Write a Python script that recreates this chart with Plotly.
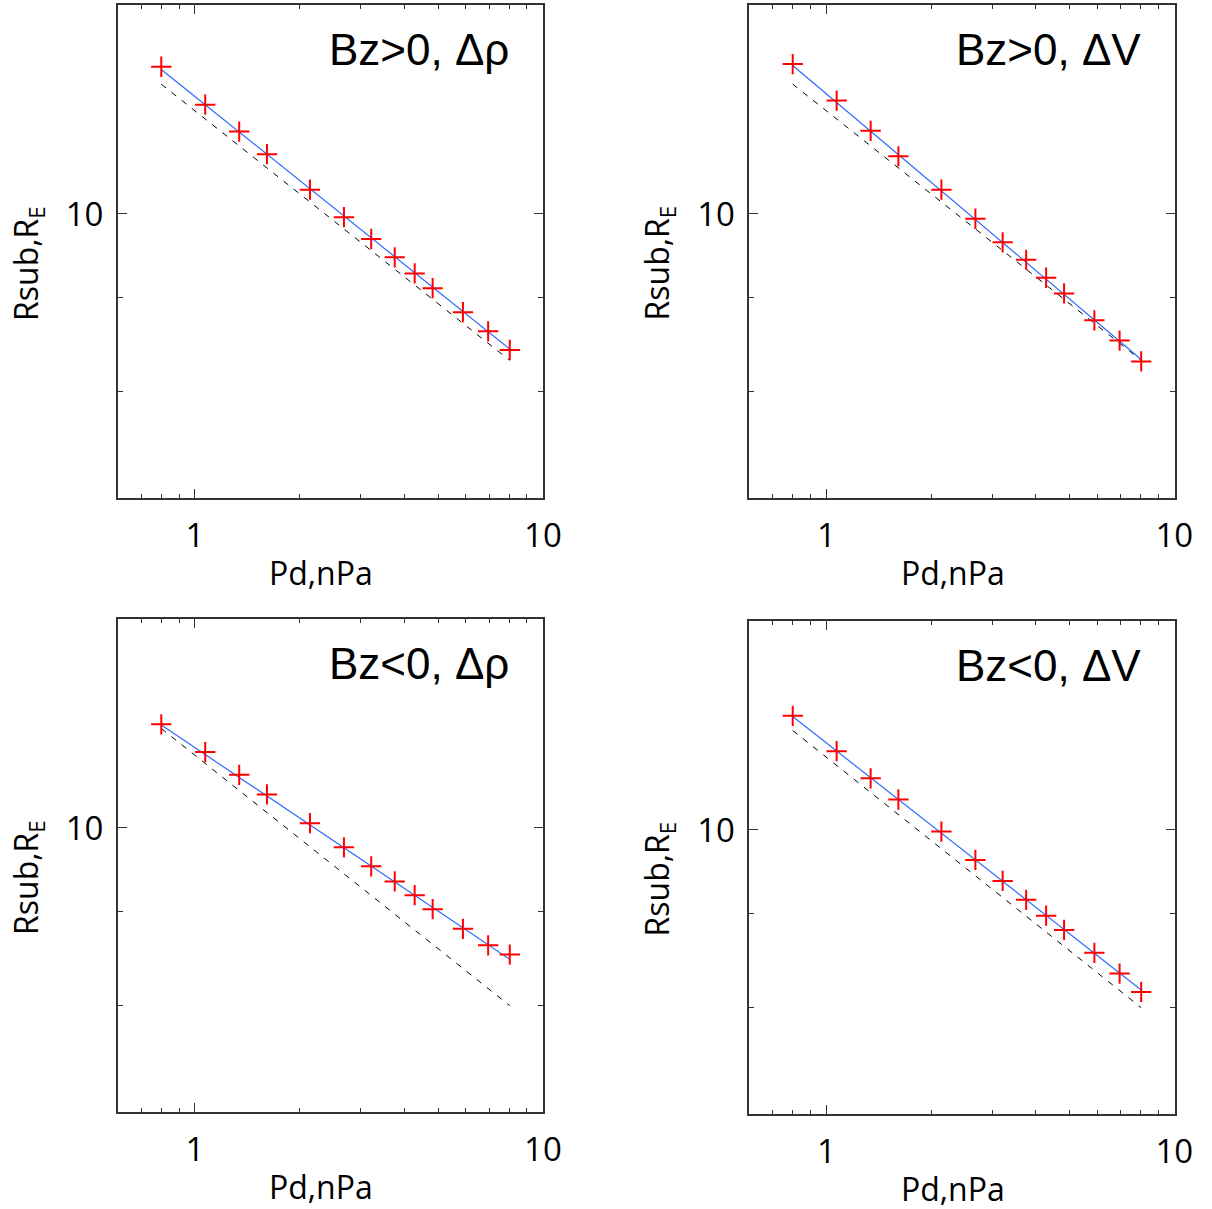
import plotly.graph_objects as go
import numpy as np

# ---------------- data ----------------
pd_vals = [0.80, 1.07, 1.34, 1.61, 2.14, 2.68, 3.21, 3.75, 4.28, 4.82, 5.89, 6.96, 8.03]

rsub_bzpos_rho = [12.03, 11.47, 11.09, 10.78, 10.31, 9.96, 9.69, 9.47, 9.28, 9.11, 8.84, 8.63, 8.43]
rsub_bzpos_v   = [12.07, 11.53, 11.10, 10.75, 10.31, 9.94, 9.65, 9.44, 9.23, 9.05, 8.75, 8.53, 8.31]
rsub_bzneg_rho = [11.39, 11.00, 10.69, 10.43, 10.06, 9.76, 9.53, 9.35, 9.19, 9.03, 8.81, 8.63, 8.53]
rsub_bzneg_v   = [11.54, 11.04, 10.67, 10.39, 9.98, 9.63, 9.38, 9.16, 8.98, 8.82, 8.57, 8.35, 8.16]

# power-law fit lines (values at first and last Pd)
fit_pd = [0.80, 8.03]
fit_bzpos_rho = [11.99, 8.44]
fit_bzpos_v   = [12.05, 8.33]
fit_bzneg_rho = [11.38, 8.48]
fit_bzneg_v   = [11.53, 8.18]
# reference (dashed) model lines
ref_bzpos = [11.77, 8.32]
ref_bzneg = [11.33, 8.00]

panel_titles = ["Bz>0, \u0394\u03c1", "Bz>0, \u0394V", "Bz<0, \u0394\u03c1", "Bz<0, \u0394V"]
x_title = "Pd,nPa"
y_title = "Rsub,R<sub>E</sub>"
x_major = [1, 10]
x_major_text = ["1", "10"]
x_minor = [0.7, 0.8, 0.9, 2, 3, 4, 5, 6, 7, 8, 9]
y_major = [10]
y_major_text = ["10"]
y_minor = [8, 9]
x_range = [0.6, 10]
y_range = [7, 13]

panels = [
    (rsub_bzpos_rho, fit_bzpos_rho, ref_bzpos),
    (rsub_bzpos_v, fit_bzpos_v, ref_bzpos),
    (rsub_bzneg_rho, fit_bzneg_rho, ref_bzneg),
    (rsub_bzneg_v, fit_bzneg_v, ref_bzneg),
]

# ---------------- layout geometry (pixels) ----------------
W, H = 1212, 1209
WX = 1195.0   # effective horizontal scale used for domain fractions
boxes = [  # left, right, top, bottom
    (118, 544, 5, 498),
    (750.5, 1176.5, 5, 498),
    (118, 544, 619, 1112),
    (750.5, 1176.5, 621, 1114),
]

fig = go.Figure()
tick_font = dict(family="Open Sans, Noto Sans, sans-serif", size=33, color="black")
title_font = dict(family="Open Sans, Noto Sans, sans-serif", size=32, color="black")
label_font = dict(family="Liberation Sans, Arial, sans-serif", size=44, color="black")
axis_color = "#333333"

annotations = []
for i, (rs, fit, ref) in enumerate(panels):
    n = "" if i == 0 else str(i + 1)
    xa, ya = "x" + n, "y" + n
    fig.add_trace(go.Scatter(x=fit_pd, y=ref, mode="lines", xaxis=xa, yaxis=ya,
                             line=dict(color="black", width=1, dash="6px,7px"),
                             showlegend=False, hoverinfo="skip"))
    fig.add_trace(go.Scatter(x=fit_pd, y=fit, mode="lines", xaxis=xa, yaxis=ya,
                             line=dict(color="#2a6bff", width=1.2),
                             showlegend=False, hoverinfo="skip"))
    fig.add_trace(go.Scatter(x=pd_vals, y=rs, mode="markers", xaxis=xa, yaxis=ya,
                             marker=dict(symbol="cross-thin", size=14.5,
                                         line=dict(color="#ff0000", width=2)),
                             showlegend=False))
    l, r, t, b = boxes[i]
    xdom = [l / WX, min(r / WX, 1.0)]
    ydom = [1 - b / H, 1 - t / H]
    common = dict(showgrid=False, zeroline=False, showline=True, linecolor=axis_color,
                  linewidth=1.5, mirror="ticks", ticks="inside", tickcolor=axis_color,
                  tickwidth=1.2, ticklen=9, tickfont=tick_font)
    fig.layout["xaxis" + n] = dict(common, type="log", domain=xdom, anchor=ya,
                                   range=[np.log10(x_range[0]), np.log10(x_range[1]) + 0.0005],
                                   tickmode="array", tickvals=x_major, ticktext=x_major_text,
                                   ticklabelstandoff=8,
                                   minor=dict(tickmode="array", tickvals=x_minor, ticks="inside",
                                              ticklen=4, tickcolor=axis_color, tickwidth=1.2))
    fig.layout["yaxis" + n] = dict(common, type="log", domain=ydom, anchor=xa,
                                   range=[np.log10(y_range[0]), np.log10(y_range[1])],
                                   tickmode="array", tickvals=y_major, ticktext=y_major_text,
                                   ticklabelstandoff=6,
                                   minor=dict(tickmode="array", tickvals=y_minor, ticks="inside",
                                              ticklen=5, tickcolor=axis_color, tickwidth=1.2))
    # panel label
    annotations.append(dict(text=panel_titles[i], xref=xa + " domain", yref=ya + " domain",
                            x=0.925, y=0.91, xanchor="right", yanchor="middle",
                            showarrow=False, font=label_font))
    # axis titles
    annotations.append(dict(text=x_title, xref="paper", yref="paper",
                            x=((l + r) / 2 - 9) / WX, y=1 - (b + 74) / H,
                            xanchor="center", yanchor="middle", showarrow=False, font=title_font))
    annotations.append(dict(text=y_title, xref="paper", yref="paper", textangle=-90,
                            x=(l - 90) / WX, y=1 - (t + 258) / H,
                            xanchor="center", yanchor="middle", showarrow=False, font=title_font))

fig.update_layout(width=W, height=H, margin=dict(l=0, r=0, t=0, b=0),
                  paper_bgcolor="white", plot_bgcolor="white",
                  annotations=annotations, showlegend=False)
fig.write_html("out.html")
